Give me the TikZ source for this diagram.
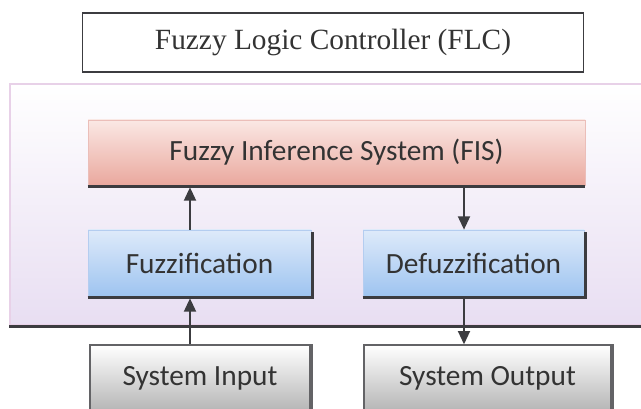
\documentclass[tikz,border=0pt]{standalone}
\usepackage{fontspec}
\setmainfont{Liberation Serif}
\newfontfamily\calib{Carlito}
\usetikzlibrary{arrows.meta}
\definecolor{txt}{HTML}{333333}
\definecolor{shad}{HTML}{3C3C40}
\tikzset{
  box/.style={draw, inner sep=0pt, text=txt},
  shadowline/.style={draw=shad, line width=2.2pt},
  conn/.style={draw=shad, line width=1.4pt, -{Triangle[length=10pt,width=9pt]}},
  sans/.style={font=\calib\fontsize{22}{25}\selectfont}
}
\begin{document}
\begin{tikzpicture}[x=0.75pt,y=-0.75pt]
\useasboundingbox (0,0) rectangle (641,409);
\fill[white] (0,0) rectangle (641,409);
% outer frame
\node[box, draw=violet!18, line width=0.8pt, top color=white, bottom color={rgb,255:red,232;green,222;blue,242},
  minimum width=476.25pt, minimum height=180.75pt] (outer) at (327.5,204.5) {};
\draw[shadowline, line width=2.4pt] ([yshift=-1pt]outer.south west) -- ([yshift=-1pt]outer.south east);
% FLC title
\node[box, draw=shad, line width=1.3pt, fill=white, minimum width=375.75pt, minimum height=44.25pt,
  font=\fontsize{22}{26}\selectfont] (flc) at (333,42.5) {Fuzzy Logic Controller (FLC)};
% FIS
\node[box, draw={rgb,255:red,235;green,190;blue,185}, line width=0.5pt, top color={rgb,255:red,250;green,232;blue,228},
  bottom color={rgb,255:red,234;green,168;blue,158}, sans,
  minimum width=372.75pt, minimum height=48.75pt] (fis) at (336.5,152.5) {Fuzzy Inference System (FIS)};
\draw[shadowline] ([yshift=-1pt]fis.south west) -- ([yshift=-1pt]fis.south east);
% Fuzzification / Defuzzification
\node[box, draw={rgb,255:red,180;green,205;blue,240}, line width=0.5pt, top color={rgb,255:red,222;green,234;blue,250},
  bottom color={rgb,255:red,158;green,196;blue,240}, sans,
  minimum width=167.25pt, minimum height=49.5pt] (fuzz) at (199.5,263) {Fuzzification};
\node[box, draw={rgb,255:red,180;green,205;blue,240}, line width=0.5pt, top color={rgb,255:red,222;green,234;blue,250},
  bottom color={rgb,255:red,158;green,196;blue,240}, sans,
  minimum width=165.75pt, minimum height=49.5pt] (defuzz) at (473.5,263) {Defuzzification};
\draw[shadowline] ([yshift=-1pt]fuzz.south west) -- ([yshift=-1pt,xshift=1pt]fuzz.south east) -- ([xshift=1pt,yshift=-2pt]fuzz.north east);
\draw[shadowline] ([yshift=-1pt]defuzz.south west) -- ([yshift=-1pt,xshift=1pt]defuzz.south east) -- ([xshift=1pt,yshift=-2pt]defuzz.north east);
% System input/output
\node[box, draw=shad!80, line width=1pt, top color=white, bottom color={rgb,255:red,180;green,180;blue,180}, sans,
  minimum width=165pt, minimum height=50.25pt] (sysin) at (200,378.5) {System Input};
\node[box, draw=shad!80, line width=1pt, top color=white, bottom color={rgb,255:red,180;green,180;blue,180}, sans,
  minimum width=185.25pt, minimum height=50.25pt] (sysout) at (487.5,378.5) {System Output};
\draw[shad!80, line width=1.6pt] ([xshift=1pt]sysin.north east) -- ([xshift=1pt]sysin.south east);
\draw[shad!80, line width=1.6pt] ([xshift=1pt]sysout.north east) -- ([xshift=1pt]sysout.south east);
% connectors
\coordinate (lx) at (190,0);
\coordinate (rx) at (464,0);
\draw[conn] (fuzz.north -| lx) -- ([yshift=-1.5pt]fis.south -| lx);
\draw[conn] (sysin.north -| lx) -- ([yshift=-1.5pt]fuzz.south -| lx);
\draw[conn] ([yshift=-1.5pt]fis.south -| rx) -- (defuzz.north -| rx);
\draw[conn] ([yshift=-1.5pt]defuzz.south -| rx) -- (sysout.north -| rx);
\end{tikzpicture}
\end{document}
